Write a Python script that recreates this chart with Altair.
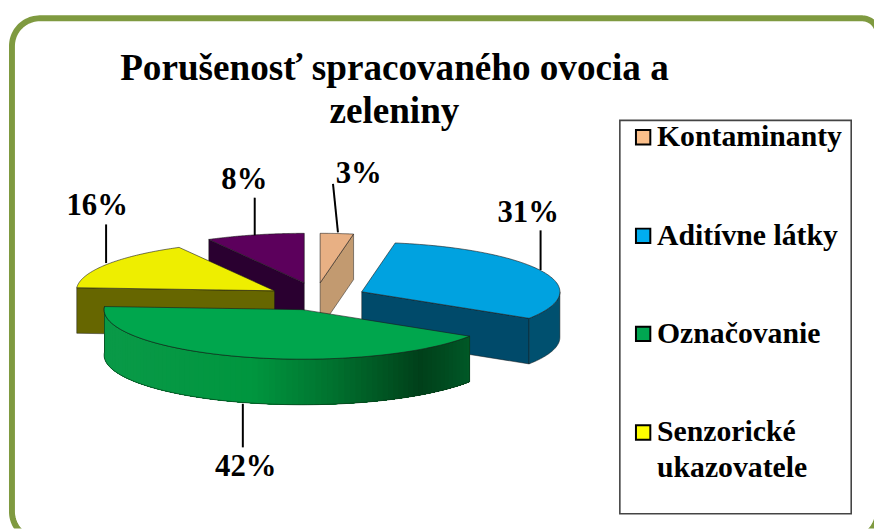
import numpy as np
import altair as alt

W, H = 874, 523
TITLE_LINES = ["Porušenosť spracovaného ovocia a", "zeleniny"]
CATEGORIES = ["Kontaminanty", "Aditívne látky", "Označovanie", "Senzorické ukazovatele", "Iné"]
SHARES = [2.7, 31.3, 42, 16, 8]
TOP_COLORS = ["#e8b084", "#00a2e0", "#00a64d", "#eeee00", "#5c005c"]
SIDE_COLORS = ["#c29a70", "#004a6a", "#008040", "#666600", "#2a0030"]
SWATCH_COLORS = ["#fbbf8a", "#00adef", "#00a651", "#ffff00"]
# slice centres after "explosion"
CX = [323, 365, 305, 277, 307]
CY = [283, 292, 310, 291, 283]
RX, RY, DEPTH = 200, 50, 46
GREEN_STOPS_X = [105, 250, 330, 420, 473]
GREEN_STOPS = ["#0a9a48", "#00963f", "#00722f", "#00401a", "#005a28"]

cum = np.cumsum([0] + SHARES) * 3.6


def pt(i, deg, dz=0):
    r = np.radians(deg)
    return [float(CX[i] + RX * np.sin(r)), float(CY[i] - RY * np.cos(r) + dz)]


def arc(i, a, b, dz=0, n=80):
    return [pt(i, d, dz) for d in np.linspace(a, b, n)]


feats = []


def poly(coords, fill, stroke, sw=0.7):
    ring = list(coords) + [coords[0]]
    feats.append({"type": "Feature", "geometry": {"type": "Polygon", "coordinates": [ring]},
                  "properties": {"fill": fill, "stroke": stroke, "sw": sw}})


def hex2rgb(h):
    return np.array([int(h[j:j + 2], 16) for j in (1, 3, 5)], float)


def green_at(x):
    rgb = [np.interp(x, GREEN_STOPS_X, [hex2rgb(c)[k] for c in GREEN_STOPS]) for k in range(3)]
    return "#%02x%02x%02x" % tuple(int(v) for v in rgb)


EDGE = "#1a1a1a"


def slice_faces(i):
    a, b = cum[i], cum[i + 1]
    c = [float(CX[i]), float(CY[i])]
    c_low = [c[0], c[1] + DEPTH]
    if i == 0:  # right radial face
        p = pt(i, b)
        poly([c, p, [p[0], p[1] + DEPTH], c_low], SIDE_COLORS[i], EDGE, 0.5)
    if i == 1:  # lower radial face + outer wall
        p = pt(i, b)
        poly([c, p, [p[0], p[1] + DEPTH], c_low], SIDE_COLORS[i], EDGE, 0.5)
        top = arc(i, 90, b, 0, 30)
        poly(top + arc(i, b, 90, DEPTH, 30), "#00506f", EDGE, 0.5)
    if i == 3:  # front radial face
        p = pt(i, a)
        poly([p, c, c_low, [p[0], p[1] + DEPTH]], SIDE_COLORS[i], EDGE, 0.5)
    if i == 4:  # left radial face
        p = pt(i, a)
        poly([p, c, c_low, [p[0], p[1] + DEPTH]], SIDE_COLORS[i], EDGE, 0.5)
    if i == 2:  # gradient outer wall: painter's strips, each running to the far end
        angs = np.linspace(b, a, 91)
        for d0, d1 in zip(angs[:-1], angs[1:]):
            col = green_at(pt(i, (d0 + d1) / 2)[0])
            poly(arc(i, d1, a, 0, 40) + arc(i, a, d1, DEPTH, 40), col, "transparent", 0)
        poly(arc(i, a, b, 0, 90) + arc(i, b, a, DEPTH, 90), "transparent", "#0a3a1a", 0.7)
    poly([c] + arc(i, a, b), TOP_COLORS[i], EDGE, 0.6)


for i in [4, 3, 0, 1, 2]:
    slice_faces(i)

# rounded frame (open path continues off the page)
FX0, FY0, FX1, FY1, FR = 12, 16, 886, 542, 28


def corner(cx, cy, a0, a1, r=FR):
    return [[float(cx + r * np.cos(np.radians(t))), float(cy + r * np.sin(np.radians(t)))]
            for t in np.linspace(a0, a1, 24)]


frame = (corner(FX0 + FR, FY0 + FR, 180, 270) + corner(FX1 - 16, FY0 + 16, 270, 360, 16)
         + corner(FX1 - FR, FY1 - FR, 0, 90) + corner(FX0 + FR, FY1 - FR, 90, 180))
frame_f = [{"type": "Feature", "geometry": {"type": "Polygon", "coordinates": [frame + [frame[0]]]},
            "properties": {"fill": "white", "stroke": "#7f9a40", "sw": 6}}]
LB = [625.5, 119, 859, 516]
box = [[LB[0], LB[1]], [LB[2], LB[1]], [LB[2], LB[3]], [LB[0], LB[3]], [LB[0], LB[1]]]
frame_f.append({"type": "Feature", "geometry": {"type": "Polygon", "coordinates": [box]},
                "properties": {"fill": "white", "stroke": "#444444", "sw": 1.6}})


def shapes(fs):
    return alt.Chart(alt.Data(values=fs)).mark_geoshape().encode(
        fill=alt.Fill("properties.fill:N", scale=None),
        stroke=alt.Stroke("properties.stroke:N", scale=None),
        strokeWidth=alt.StrokeWidth("properties.sw:Q", scale=None),
    ).project(**{"type": "identity", "scale": 1, "translate": [-8, -8]})


X = lambda f: alt.X(f, scale=alt.Scale(domain=[8, 8 + W], range=[0, W]), axis=None)
Y = lambda f: alt.Y(f, scale=alt.Scale(domain=[8, 8 + H], range=[0, H]), axis=None)
SERIF = "Liberation Serif"

PCT_LABELS = [f"{round(s)}%" for s in SHARES]
label_x = [362, 533, 248, 98, 246.5]
label_y = [182, 222, 478, 215, 188]
labels = alt.Chart(alt.Data(values=[{"t": t, "x": a, "y": b} for t, a, b in zip(PCT_LABELS, label_x, label_y)])
                   ).mark_text(font=SERIF, fontWeight="bold", fontSize=31, baseline="alphabetic", color="#000000"
                               ).encode(x=X("x:Q"), y=Y("y:Q"), text="t:N")

lead = [(336, 183, 341, 232), (545.5, 230, 545.5, 270), (245, 405, 245, 449), (107, 224, 107, 263), (257, 197, 257, 235)]
leaders = alt.Chart(alt.Data(values=[{"x": a, "y": b, "x2": c, "y2": d} for a, b, c, d in lead])
                    ).mark_rule(color="#000000", strokeWidth=2).encode(x=X("x:Q"), y=Y("y:Q"), x2="x2:Q", y2="y2:Q")

title = alt.Chart(alt.Data(values=[{"t": t, "x": 398, "y": y} for t, y in zip(TITLE_LINES, [78, 122])])
                  ).mark_text(font=SERIF, fontWeight="bold", fontSize=37.5, baseline="alphabetic", color="#000000"
                              ).encode(x=X("x:Q"), y=Y("y:Q"), text="t:N")

sw_y = [136, 235.5, 334.5, 434]
swatches = alt.Chart(alt.Data(values=[{"x": 649, "y": y, "c": c} for y, c in zip(sw_y, SWATCH_COLORS)])
                     ).mark_point(shape="square", filled=True, size=210, stroke="#000000", strokeWidth=2, opacity=1
                                  ).encode(x=X("x:Q"), y=Y("y:Q"), fill=alt.Fill("c:N", scale=None))
leg_lines = [("Kontaminanty", 145), ("Aditívne látky", 245), ("Označovanie", 344), ("Senzorické", 443), ("ukazovatele", 479)]
legtext = alt.Chart(alt.Data(values=[{"t": t, "x": 663, "y": y} for t, y in leg_lines])
                    ).mark_text(font=SERIF, fontWeight="bold", fontSize=30, align="left", baseline="alphabetic",
                                color="#000000").encode(x=X("x:Q"), y=Y("y:Q"), text="t:N")

chart = alt.layer(shapes(frame_f), shapes(feats), leaders, labels, title, swatches, legtext).resolve_scale(
    x="shared", y="shared"
).properties(
    width=W, height=H, padding=0, autosize=alt.AutoSizeParams(type="none"), background="white"
).configure_view(stroke=None)
chart.save("out.html", embed_options={"renderer": "svg", "actions": False})
